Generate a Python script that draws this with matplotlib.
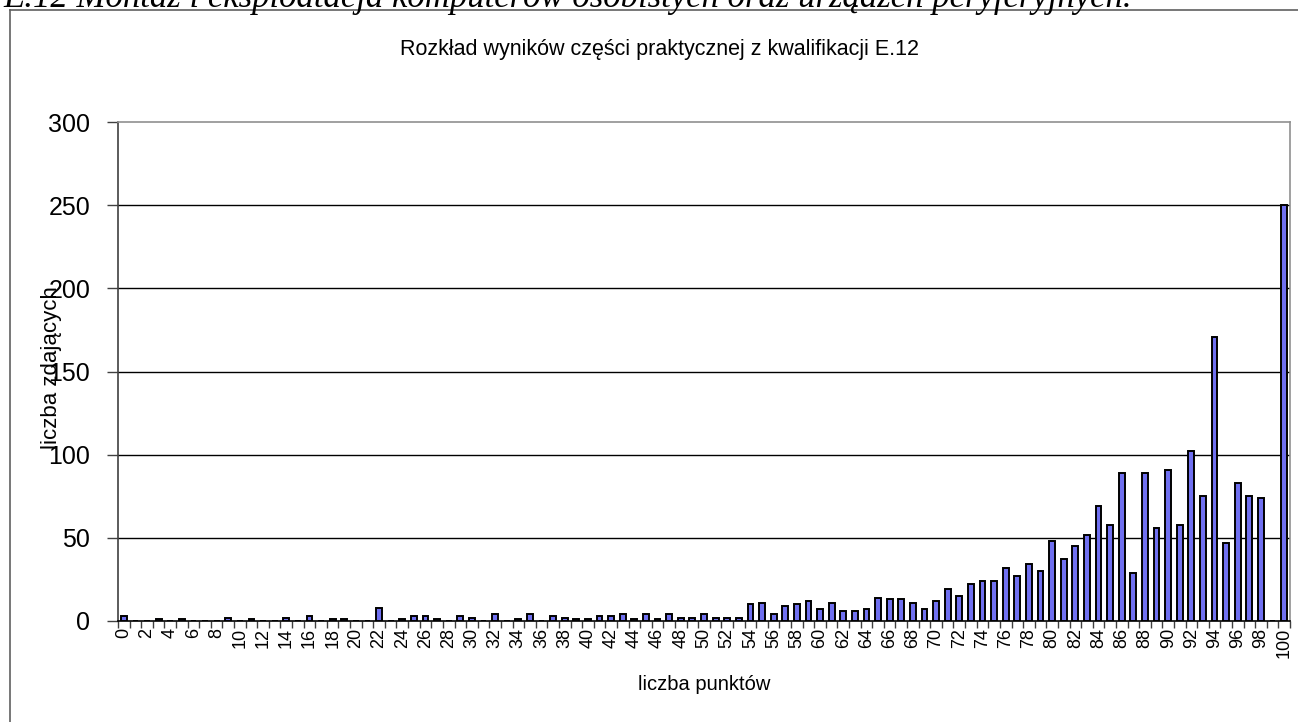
import numpy as np
import matplotlib.pyplot as plt
from matplotlib.lines import Line2D

plt.rcParams['font.family'] = ['Liberation Sans', 'DejaVu Sans']

# liczba punktów 0..100 and number of candidates per score
points = list(range(0, 101))
counts = [3, 0, 0, 1, 0, 1, 0, 0, 0, 2,
          0, 1, 0, 0, 2, 0, 3, 0, 1, 1,
          0, 0, 8, 0, 1, 3, 3, 1, 0, 3,
          2, 0, 4, 0, 1, 4, 0, 3, 2, 1,
          1, 3, 3, 4, 1, 4, 1, 4, 2, 2,
          4, 2, 2, 2, 10, 11, 4, 9, 10, 12,
          7, 11, 6, 6, 7, 14, 13, 13, 11, 7,
          12, 19, 15, 22, 24, 24, 32, 27, 34, 30,
          48, 37, 45, 52, 69, 58, 89, 29, 89, 56,
          91, 58, 102, 75, 171, 47, 83, 75, 74, 0,
          250]
xtick_labels = [str(p) for p in points[::2]]
yticks = [0, 50, 100, 150, 200, 250, 300]

fig = plt.figure(figsize=(12.98, 7.22), dpi=100)
ax = fig.add_axes([118 / 1298, 1 - 621 / 722, (1290 - 118) / 1298, (621 - 122) / 722])

ax.bar(points, counts, width=0.5, color='#7070f0', edgecolor='black', linewidth=1.4, zorder=3)

ax.set_xlim(-0.5, 100.5)
ax.set_ylim(0, 300)
ax.set_yticks(yticks)
ax.tick_params(axis='y', labelsize=18, length=8, width=1, pad=12, direction='out', color='#404040')
for y in yticks[1:-1]:
    ax.axhline(y, color='black', linewidth=1, zorder=1)

ax.set_xticks(points[::2])
ax.set_xticklabels(xtick_labels, rotation=90, fontsize=13)
ax.set_xticks(np.arange(-0.5, 101, 1), minor=True)
ax.tick_params(axis='x', which='major', length=0, pad=5)
ax.tick_params(axis='x', which='minor', length=5, width=1, color='#404040')

ax.spines['left'].set_color('#404040')
ax.spines['bottom'].set_color('black')
ax.spines['top'].set_color('#909090')
ax.spines['right'].set_color('#909090')
for s in ax.spines.values():
    s.set_linewidth(1.2)

fig.text(660 / 1298, 1 - 50 / 722, 'Rozkład wyników części praktycznej z kwalifikacji E.12',
         ha='center', va='center', fontsize=15.5)
fig.text(704 / 1298, 1 - 684 / 722, 'liczba punktów', ha='center', va='center', fontsize=14.5)
fig.text(52 / 1298, 1 - 368 / 722, 'liczba zdających', ha='center', va='center',
         rotation=90, fontsize=16)

# header line of the page, cut off at the top
fig.text(3 / 1298, 1 - 7 / 722,
         'E.12 Montaż i eksploatacja komputerów osobistych oraz urządzeń peryferyjnych.',
         ha='left', va='baseline', fontsize=25, style='italic', family='Liberation Serif')

# outer chart frame
fig.add_artist(Line2D([10 / 1298, 10 / 1298], [0, 1 - 10 / 722], color='#606060', lw=1.2,
                      transform=fig.transFigure))
fig.add_artist(Line2D([10 / 1298, 1], [1 - 10 / 722, 1 - 10 / 722], color='#606060', lw=1.2,
                      transform=fig.transFigure))

fig.savefig('out.png', dpi=100)
